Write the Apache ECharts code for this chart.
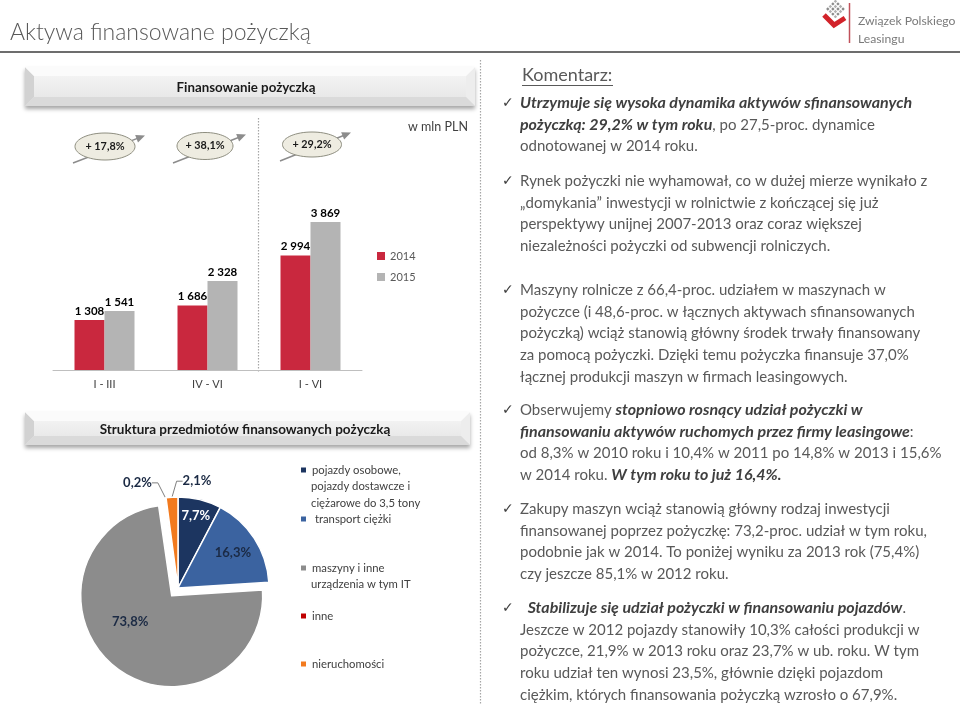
<!DOCTYPE html>
<html><head><meta charset="utf-8">
<script src="https://cdn.jsdelivr.net/npm/echarts@6/dist/echarts.min.js"></script>
<style>html,body{margin:0;padding:0;background:#fff}#c{width:960px;height:705px}</style>
</head><body><div id="c"></div>
<script>
// ---- data ----
const categories = ['I - III', 'IV - VI', 'I - VI'];
const years = ['2014', '2015'];
const values2014 = [1308, 1686, 2994];
const values2015 = [1541, 2328, 3869];
const growth = ['+ 17,8%', '+ 38,1%', '+ 29,2%'];
const pieNames = ['pojazdy osobowe,\npojazdy dostawcze i\nciężarowe do 3,5 tony', 'transport ciężki', 'maszyny i inne\nurządzenia w tym IT', 'inne', 'nieruchomości'];
const pieValues = [7.7, 16.3, 73.8, 0.2, 2.1];

// ---- style ----
const F = 'Lato, "Open Sans", sans-serif';
const barColors = ['#C9283E', '#B4B4B4'];
const pieColors = ['#1C3560', '#3B63A0', '#8C8C8C', '#C00000', '#F27A1E'];
const PIE_C = [178, 588], PIE_R = 91, PIE_OFF = 10;

const fmtThousands = v => String(v).replace(/\B(?=(\d{3})+(?!\d))/g, ' ');
const fmtPct = v => v.toFixed(1).replace('.', ',') + '%';

const total = pieValues.reduce((a, b) => a + b, 0);
const midAng = pieValues.map((v, i) => {
  const before = pieValues.slice(0, i).reduce((a, b) => a + b, 0);
  return (before + v / 2) / total * 2 * Math.PI;
});
const selectedIdx = 2;
const inside = [0.82, 0.72, null, null, null];
const outsideOff = [null, null, null, [-28, -15], [25, -16]];

function pieLabel(p) {
  const i = p.dataIndex, a = midAng[i];
  if (i === selectedIdx) return { dx: -11, dy: -12 };
  const cx = PIE_C[0], cy = PIE_C[1];
  if (inside[i] != null) {
    return { x: cx + inside[i] * PIE_R * Math.sin(a), y: cy - inside[i] * PIE_R * Math.cos(a), align: 'center', verticalAlign: 'middle' };
  }
  const ox = cx + PIE_R * Math.sin(a), oy = cy - PIE_R * Math.cos(a);
  return { x: ox + outsideOff[i][0], y: oy + outsideOff[i][1], align: 'center', verticalAlign: 'middle' };
}

// ---- graphics helpers ----
const G = [];
function txt(x, y, text, o) { G.push(Object.assign({ type: 'text', x, y, silent: true, style: Object.assign({ text, fontFamily: F, fill: '#595959', fontSize: 12, verticalAlign: 'middle' }, o || {}) })); }
function line(x1, y1, x2, y2, s) { G.push({ type: 'line', silent: true, shape: { x1, y1, x2, y2 }, style: Object.assign({ stroke: '#595959', lineWidth: 1 }, s || {}) }); }
function banner(x1, y1, x2, y2) {
  G.push({ type: 'rect', silent: true, shape: { x: x1, y: y1, width: x2 - x1, height: y2 - y1 },
    style: { fill: new echarts.graphic.LinearGradient(0, 0, 0, 1, [{ offset: 0, color: '#F7F7F7' }, { offset: 1, color: '#E4E4E4' }]),
      shadowBlur: 4, shadowOffsetY: 3, shadowColor: 'rgba(0,0,0,0.35)' } });
  const b = 9;
  G.push({ type: 'polygon', silent: true, shape: { points: [[x1, y1], [x1 + b, y1 + b], [x1 + b, y2 - b], [x1, y2]] }, style: { fill: '#D2D2D2' } });
  G.push({ type: 'polygon', silent: true, shape: { points: [[x2, y1], [x2 - b, y1 + b], [x2 - b, y2 - b], [x2, y2]] }, style: { fill: '#EDEDED' } });
  G.push({ type: 'polygon', silent: true, shape: { points: [[x1, y1], [x1 + b, y1 + b], [x2 - b, y1 + b], [x2, y1]] }, style: { fill: '#FBFBFB' } });
  G.push({ type: 'polygon', silent: true, shape: { points: [[x1, y2], [x1 + b, y2 - b], [x2 - b, y2 - b], [x2, y2]] }, style: { fill: '#DADADA' } });
}
function arrowEllipse(cx, cy, rx, ry, label, from, to) {
  const dx = to[0] - from[0], dy = to[1] - from[1], L = Math.hypot(dx, dy), ux = dx / L, uy = dy / L, nx = -uy, ny = ux;
  line(from[0], from[1], to[0] - ux * 6, to[1] - uy * 6, { stroke: '#8C8C8C', lineWidth: 1.5 });
  G.push({ type: 'polygon', silent: true, shape: { points: [[to[0], to[1]], [to[0] - ux * 9 + nx * 4, to[1] - uy * 9 + ny * 4], [to[0] - ux * 9 - nx * 4, to[1] - uy * 9 - ny * 4]] }, style: { fill: '#8C8C8C' } });
  G.push({ type: 'ellipse', silent: true, shape: { cx, cy, rx, ry }, style: { fill: '#EEECE1', stroke: '#8E8E80', lineWidth: 1 } });
  txt(cx, cy, label, { align: 'center', fontWeight: 'bold', fill: '#1A1A1A', fontSize: 10.8 });
}

// title + rule
txt(10, 33, 'Aktywa finansowane pożyczką', { fontSize: 23, fill: '#595959', fontWeight: 300 });
line(0, 52, 960, 52, { stroke: '#6D6D6D', lineWidth: 2 });

// logo
G.push({ type: 'group', x: 836, y: 9, rotation: Math.PI / 4, silent: true, children: (() => {
  const c = []; for (let r = 0; r < 4; r++) for (let k = 0; k < 4; k++) c.push({ type: 'rect', shape: { x: -7 + k * 3.6, y: -7 + r * 3.6, width: 2.4, height: 2.4 }, style: { fill: (r + k) % 2 ? '#B0B0B0' : '#8A8A8A' } });
  return c; })() });
G.push({ type: 'polyline', silent: true, shape: { points: [[824, 15], [834, 25], [845, 18]] }, style: { stroke: '#D2232A', lineWidth: 5, fill: null, lineJoin: 'miter' } });
line(849.5, 3, 849.5, 43, { stroke: '#C0505A', lineWidth: 1.5 });
txt(858, 21, 'Związek Polskiego', { fontSize: 12.2, fill: '#7A7A7A' });
txt(858, 39, 'Leasingu', { fontSize: 12.2, fill: '#7A7A7A' });

// separators
line(480.5, 60, 480.5, 705, { stroke: '#A6A6A6', lineWidth: 1.2, lineDash: [1.5, 1.5] });
line(258.5, 118, 258.5, 372, { stroke: '#A6A6A6', lineWidth: 1.2, lineDash: [1.5, 1.5] });

// banners
banner(25, 67, 475, 106);
txt(246, 87.5, 'Finansowanie pożyczką', { align: 'center', fontWeight: 'bold', fill: '#1A1A1A', fontSize: 13.3 });
banner(25, 412, 470, 445);
txt(245, 430, 'Struktura przedmiotów finansowanych pożyczką', { align: 'center', fontWeight: 'bold', fill: '#1A1A1A', fontSize: 13.5 });

// growth ellipses
arrowEllipse(105, 146.5, 30, 13.5, growth[0], [73, 163], [145, 135.5]);
arrowEllipse(205, 146, 28, 13.5, growth[1], [173, 163], [246, 134.5]);
arrowEllipse(312, 144.5, 29.5, 12.5, growth[2], [280, 161], [351, 132.5]);
txt(438, 127, 'w mln PLN', { align: 'center', fontSize: 12.5, fill: '#404040' });

// right commentary
const FS = 15, LH = 21.7;
const rich = {
  r: { fontFamily: F, fontSize: FS, fill: '#595959', lineHeight: LH },
  b: { fontFamily: F, fontSize: 16, fill: '#3F3F3F', fontWeight: 'bold', fontStyle: 'italic', lineHeight: LH }
};
txt(522, 75, 'Komentarz:', { fontSize: 18, fill: '#595959' });
line(522, 85.5, 613, 85.5, { stroke: '#595959', lineWidth: 1 });
const paras = [
  [103, [[['b', 'Utrzymuje się wysoka dynamika aktywów sfinansowanych']], [['b', 'pożyczką: 29,2% w tym roku'], ['r', ', po 27,5-proc. dynamice']], [['r', 'odnotowanej w 2014 roku.']]]],
  [181, [[['r', 'Rynek pożyczki nie wyhamował, co w dużej mierze wynikało z']], [['r', '„domykania” inwestycji w rolnictwie z kończącej się już']], [['r', 'perspektywy unijnej 2007-2013 oraz coraz większej']], [['r', 'niezależności pożyczki od subwencji rolniczych.']]]],
  [290, [[['r', 'Maszyny rolnicze z 66,4-proc. udziałem w maszynach w']], [['r', 'pożyczce (i 48,6-proc. w łącznych aktywach sfinansowanych']], [['r', 'pożyczką) wciąż stanowią główny środek trwały finansowany']], [['r', 'za pomocą pożyczki. Dzięki temu pożyczka finansuje 37,0%']], [['r', 'łącznej produkcji maszyn w firmach leasingowych.']]]],
  [410, [[['r', 'Obserwujemy '], ['b', 'stopniowo rosnący udział pożyczki w']], [['b', 'finansowaniu aktywów ruchomych przez firmy leasingowe'], ['r', ':']], [['r', 'od 8,3% w 2010 roku i 10,4% w 2011 po 14,8% w 2013 i 15,6%']], [['r', 'w 2014 roku. '], ['b', 'W tym roku to już 16,4%.']]]],
  [509, [[['r', 'Zakupy maszyn wciąż stanowią główny rodzaj inwestycji']], [['r', 'finansowanej poprzez pożyczkę: 73,2-proc. udział w tym roku,']], [['r', 'podobnie jak w 2014. To poniżej wyniku za 2013 rok (75,4%)']], [['r', 'czy jeszcze 85,1% w 2012 roku.']]]],
  [608, [[['r', '  '], ['b', 'Stabilizuje się udział pożyczki w finansowaniu pojazdów'], ['r', '.']], [['r', 'Jeszcze w 2012 pojazdy stanowiły 10,3% całości produkcji w']], [['r', 'pożyczce, 21,9% w 2013 roku oraz 23,7% w ub. roku. W tym']], [['r', 'roku udział ten wynosi 23,5%, głównie dzięki pojazdom']], [['r', 'ciężkim, których finansowania pożyczką wzrosło o 67,9%.']]]]
];
paras.forEach(([y, lines]) => {
  const t = lines.map(l => l.map(([s, v]) => '{' + s + '|' + v + '}').join('')).join('\n');
  G.push({ type: 'text', x: 520, y: y - LH / 2, silent: true, style: { text: t, rich, verticalAlign: 'top', fontFamily: F, fontSize: FS } });
  txt(502, y, '✓', { fontFamily: '"DejaVu Sans", sans-serif', fontSize: 14, fill: '#404040' });
});

// ---- pie legends (one per item, extra name lines continue under the first) ----
const legendPos = [470, 519, 568, 616, 664];
const LLH = 16.5, LFS = 11.3;
const pieLegends = pieNames.map((n, i) => ({
  data: [n], orient: 'vertical', left: 299, top: legendPos[i] - LLH / 2,
  padding: 0, itemWidth: 7, itemHeight: 7, itemGap: 0, selectedMode: false, icon: 'rect',
  textStyle: { fontFamily: F, fontSize: LFS, color: '#404040', lineHeight: LLH },
  formatter: s => (i === 1 ? ' ' : '') + s.split('\n')[0]
}));
pieNames.forEach((n, i) => n.split('\n').slice(1).forEach((ln, k) =>
  txt(311, legendPos[i] + (k + 1) * LLH, ln, { fontSize: LFS, fill: '#404040' })));

const chart = echarts.init(document.getElementById('c'), null, { renderer: 'canvas' });
chart.setOption({
  animation: false,
  backgroundColor: '#fff',
  textStyle: { fontFamily: F },
  graphic: G,
  legend: [{
    data: years, orient: 'vertical', left: 377, top: 249, padding: 0, itemWidth: 8, itemHeight: 8, itemGap: 7,
    selectedMode: false, icon: 'rect', textStyle: { fontFamily: F, fontSize: 11, color: '#595959', lineHeight: 14 }
  }].concat(pieLegends),
  grid: { left: 53, top: 198, width: 309, height: 172 },
  xAxis: { type: 'category', data: categories, axisLine: { lineStyle: { color: '#BFBFBF', width: 1 } }, axisTick: { show: false },
    axisLabel: { color: '#404040', fontSize: 11, margin: 9, fontFamily: F } },
  yAxis: { type: 'value', min: 0, max: 4500, show: false, splitLine: { show: false } },
  series: [
    { name: years[0], type: 'bar', data: values2014, barWidth: 30, barGap: '0%', itemStyle: { color: barColors[0] },
      label: { show: true, position: 'top', distance: 3, fontWeight: 'bold', fontSize: 11.5, color: '#000', fontFamily: F, formatter: p => fmtThousands(p.value) } },
    { name: years[1], type: 'bar', data: values2015, barWidth: 30, barGap: '0%', itemStyle: { color: barColors[1] },
      label: { show: true, position: 'top', distance: 3, fontWeight: 'bold', fontSize: 11.5, color: '#000', fontFamily: F, formatter: p => fmtThousands(p.value) } },
    { type: 'pie', center: PIE_C, radius: PIE_R, startAngle: 90, clockwise: true, selectedMode: 'multiple', selectedOffset: PIE_OFF,
      avoidLabelOverlap: false,
      itemStyle: { borderColor: '#fff', borderWidth: 1.5 },
      data: pieNames.map((n, i) => ({
        name: n, value: pieValues[i], selected: i === selectedIdx, itemStyle: { color: pieColors[i] },
        label: { color: i === 0 ? '#fff' : '#1B2A44', position: i === selectedIdx ? 'inside' : 'outside' },
        labelLine: { show: inside[i] == null && i !== selectedIdx, length: 6, length2: 6, lineStyle: { color: '#7F7F7F', width: 1 } }
      })),
      label: { show: true, fontFamily: F, fontSize: 13, fontWeight: 'bold', formatter: p => fmtPct(p.value) },
      labelLayout: pieLabel,
      emphasis: { disabled: true }
    }
  ]
});
</script></body></html>
